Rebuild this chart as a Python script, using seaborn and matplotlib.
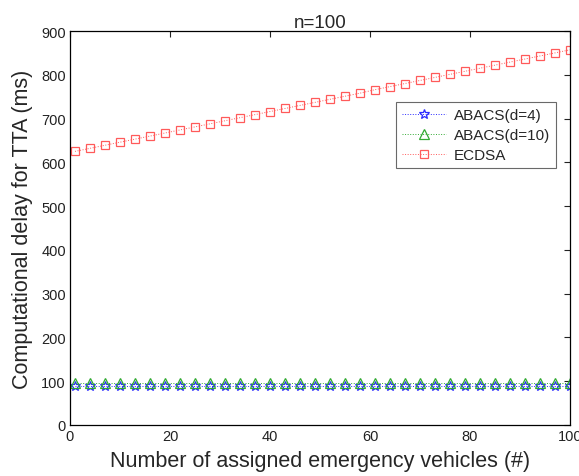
import matplotlib
matplotlib.use("Agg")
import matplotlib.pyplot as plt
import seaborn as sns
import pandas as pd

x_vals = [1, 4, 7, 10, 13, 16, 19, 22, 25, 28, 31, 34, 37, 40, 43, 46, 49,
          52, 55, 58, 61, 64, 67, 70, 73, 76, 79, 82, 85, 88, 91, 94, 97, 100]
abacs_d4 = [88] * 34
abacs_d10 = [97] * 34
ecdsa = [625, 632, 639, 646, 653, 660, 667, 674, 681, 688, 695, 702, 709, 716,
         723, 730, 737, 744, 751, 758, 766, 773, 780, 787, 794, 801, 808, 815,
         822, 829, 836, 843, 850, 857]
series_names = ["ABACS(d=4)", "ABACS(d=10)", "ECDSA"]
x_ticks = [0, 20, 40, 60, 80, 100]
y_ticks = [0, 100, 200, 300, 400, 500, 600, 700, 800, 900]

sns.set_style("white")
plt.rcParams["font.family"] = ["Liberation Sans", "DejaVu Sans"]

rows = []
for name, vals in zip(series_names, [abacs_d4, abacs_d10, ecdsa]):
    for xv, yv in zip(x_vals, vals):
        rows.append({"x": xv, "y": yv, "series": name})
df = pd.DataFrame(rows)

colors = {"ABACS(d=4)": "#2b2bff", "ABACS(d=10)": "#33aa33", "ECDSA": "#ff5a5a"}
markers = {"ABACS(d=4)": "*", "ABACS(d=10)": "^", "ECDSA": "s"}
msizes = {"ABACS(d=4)": 7, "ABACS(d=10)": 6.5, "ECDSA": 5.8}

fig = plt.figure(figsize=(5.79, 4.77), dpi=100)
ax = fig.add_axes([70 / 579, 1 - 426 / 477, 500 / 579, 394 / 477])

for name in series_names:
    sub = df[df["series"] == name]
    sns.lineplot(data=sub, x="x", y="y", ax=ax, color=colors[name],
                 linestyle=":", linewidth=0.7, marker=markers[name],
                 markersize=msizes[name], markerfacecolor="none",
                 markeredgecolor=colors[name], markeredgewidth=0.9,
                 label=name)

ax.set_xlim(0, 100)
ax.set_ylim(0, 900)
ax.set_xticks(x_ticks)
ax.set_yticks(y_ticks)
ax.tick_params(direction="in", length=4, width=0.8, labelsize=10.5,
               top=True, right=True, colors="#222222", pad=3)
for s in ax.spines.values():
    s.set_visible(True)
    s.set_color("black")
    s.set_linewidth(0.9)
ax.set_title("n=100", fontsize=13.5, pad=3)
ax.set_xlabel("Number of assigned emergency vehicles (#)", fontsize=15.5, labelpad=5)
ax.set_ylabel("Computational delay for TTA (ms)", fontsize=15.5, labelpad=6)

leg = ax.legend(loc="upper left", bbox_to_anchor=(0.652, 0.82), fontsize=11,
                frameon=True, fancybox=False, edgecolor="#444444",
                handlelength=2.9, borderpad=0.4, labelspacing=0.4,
                handletextpad=0.5, borderaxespad=0)
leg.get_frame().set_linewidth(0.8)

fig.savefig("out.png", dpi=100)
